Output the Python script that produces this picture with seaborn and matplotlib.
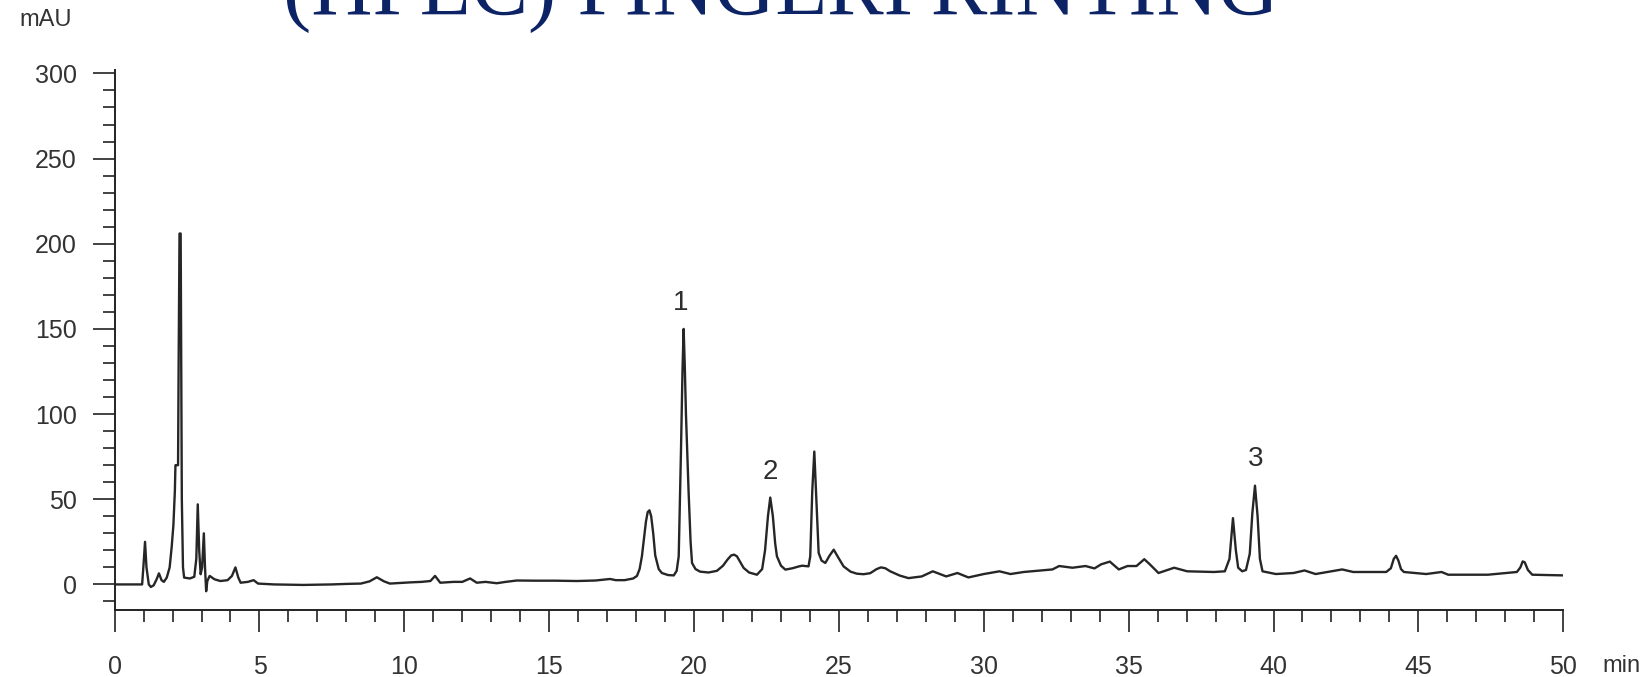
import matplotlib
matplotlib.use("Agg")
import matplotlib.pyplot as plt
import seaborn as sns
import pandas as pd
from matplotlib.ticker import MultipleLocator

# ---- data ----
time_min = [
    0.0, 0.95, 1.0, 1.05, 1.1, 1.18, 1.25, 1.35, 1.45, 1.53, 1.62, 1.7, 1.8, 1.9, 1.97,
    2.03, 2.08, 2.10, 2.19, 2.21, 2.24, 2.28, 2.30, 2.32, 2.36, 2.40, 2.6, 2.75, 2.82,
    2.87, 2.92, 2.97, 3.02, 3.08, 3.12, 3.16, 3.2, 3.28, 3.45, 3.65, 3.9, 4.05, 4.17,
    4.27, 4.35, 4.6, 4.8, 4.95, 5.5, 6.5, 7.5, 8.0, 8.5, 8.8, 9.05, 9.3, 9.5, 9.8, 10.2,
    10.6, 10.9, 11.06, 11.24, 11.7, 12.0, 12.27, 12.5, 12.8, 13.19, 13.5, 13.88, 14.5,
    15.2, 15.96, 16.6, 17.1, 17.3, 17.6, 17.9, 18.03, 18.12, 18.2, 18.27, 18.34, 18.4,
    18.46, 18.52, 18.59, 18.66, 18.78, 18.89, 19.1, 19.3, 19.4, 19.47, 19.55, 19.6,
    19.64, 19.68, 19.72, 19.81, 19.88, 19.93, 20.05, 20.21, 20.5, 20.79, 21.0, 21.15,
    21.28, 21.38, 21.48, 21.6, 21.71, 21.9, 22.17, 22.35, 22.45, 22.55, 22.63, 22.72,
    22.8, 22.86, 23.0, 23.15, 23.4, 23.6, 23.73, 23.95, 24.01, 24.08, 24.15, 24.22,
    24.3, 24.4, 24.53, 24.68, 24.82, 24.97, 25.16, 25.4, 25.62, 25.85, 26.08, 26.3,
    26.45, 26.6, 26.77,
    27.1, 27.4, 27.86, 28.24, 28.7, 29.09, 29.47, 30.0, 30.54, 30.92, 31.38, 31.99,
    32.37, 32.6, 33.06, 33.51, 33.82, 34.05, 34.35, 34.66, 34.96, 35.27, 35.54, 35.73,
    36.03, 36.57, 37.02, 37.94, 38.32, 38.48, 38.6, 38.7, 38.78, 38.92, 39.05, 39.18,
    39.27, 39.36, 39.45, 39.53, 39.62, 40.08, 40.69, 41.07, 41.45, 42.37, 42.75, 43.89,
    44.05, 44.15, 44.23, 44.31, 44.4, 44.5, 45.27, 45.8, 46.03, 47.4, 48.4, 48.52,
    48.6, 48.67, 48.78, 48.93, 50.0,
]
signal_mau = [
    0.0, 0.0, 12, 25, 10, 0, -1.5, -0.5, 3, 6.5, 2.5, 1.5, 4, 10, 22,
    35, 55, 70, 70, 130, 206, 206, 120, 50, 10, 4, 3.5, 4.5, 15,
    47, 20, 6, 10, 30, 10, -4, 2, 5, 3, 2, 2.5, 5, 10,
    4, 1, 1.5, 2.5, 0.5, 0, -0.3, 0, 0.3, 0.5, 1.8, 4.2, 1.8, 0.5, 0.8, 1.2,
    1.5, 2, 5, 1, 1.5, 1.5, 3.5, 1, 1.5, 0.7, 1.5, 2.3, 2.2,
    2.2, 2, 2.3, 3.2, 2.5, 2.5, 3.5, 5, 9, 16.5, 27, 37, 42.5,
    43.5, 40, 30, 17, 9, 6.7, 5.5, 5.3, 8, 16.5, 80, 125,
    150, 128, 100, 55, 25, 12.6, 9, 7.5, 7, 8, 11, 14.5,
    17, 17.5, 16.5, 13, 9.7, 7, 5.7, 9, 20, 40, 51, 40,
    24, 16.5, 11, 8.7, 9.5, 10.5, 11, 10.6, 16.5, 55, 78, 50,
    18.5, 14, 12.6, 17, 20.4, 16, 10.6, 7.5, 6.3, 6, 6.6, 9,
    10, 9.5, 7.7,
    5.2, 3.7, 4.7, 7.7, 4.7, 6.7, 4.1, 6.1, 7.7, 6.1, 7.3, 8.2,
    8.8, 10.8, 9.8, 10.8, 9.4, 11.8, 13.4, 8.8, 10.8, 10.8, 14.8, 11.8,
    6.7, 9.8, 7.7, 7.3, 7.7, 15, 38.9, 20, 9.8, 7.7, 8.5, 18,
    42, 58, 40, 15, 7.7, 6.1, 6.7, 8.2, 6.1, 8.8, 7.3, 7.3,
    9.5, 15, 16.8, 14, 9, 7.3, 6.1, 7.3, 5.7, 5.7, 7.3, 10,
    13.5, 13, 8.5, 5.7, 5.3,
]
peak_labels = ["1", "2", "3"]
peak_label_time = [19.55, 22.62, 39.4]
peak_label_mau = [165, 66, 73.5]
x_ticks = [0, 5, 10, 15, 20, 25, 30, 35, 40, 45, 50]
y_ticks = [0, 50, 100, 150, 200, 250, 300]
title_text = "(HPLC) FINGERPRINTING"
y_unit = "mAU"
x_unit = "min"

sns.set_theme(style="ticks")
plt.rcParams['font.family'] = ['Liberation Sans', 'DejaVu Sans']

fig = plt.figure(figsize=(16.49, 6.77), dpi=100)
ax = fig.add_axes([0.0695, 0.099, 0.8785, 0.7976])

df = pd.DataFrame({"t": time_min, "s": signal_mau})
sns.lineplot(data=df, x="t", y="s", ax=ax, color="#262626", linewidth=1.7,
             sort=False, estimator=None)

ax.set_xlim(0, 50)
ax.set_ylim(-15, 302)
ax.set_xlabel("")
ax.set_ylabel("")
ax.set_xticks(x_ticks)
ax.set_yticks(y_ticks)
ax.set_xticklabels([str(v) for v in x_ticks])
ax.set_yticklabels([str(v) for v in y_ticks])
ax.xaxis.set_minor_locator(MultipleLocator(1))
ax.yaxis.set_minor_locator(MultipleLocator(10))

for side in ["top", "right"]:
    ax.spines[side].set_visible(False)
for side in ["left", "bottom"]:
    ax.spines[side].set_linewidth(1.4)
    ax.spines[side].set_color("#222222")

ax.tick_params(which="major", direction="out", length=15.8, width=1.2,
               color="#222222", labelsize=18, labelcolor="#333333")
ax.tick_params(axis="y", which="major", pad=11.5)
ax.tick_params(axis="x", which="major", pad=16.5)
ax.tick_params(which="minor", direction="out", length=8.6, width=1.2,
               color="#222222")

for lab, t, v in zip(peak_labels, peak_label_time, peak_label_mau):
    ax.text(t, v, lab, ha="center", va="center", fontsize=20, color="#2e2e2e")

fig.text(72 / 1649, 1 - 20 / 677, y_unit, ha="right", va="center",
         fontsize=17, color="#333333")
fig.text(1602 / 1649, 1 - 666 / 677, x_unit, ha="left", va="center",
         fontsize=17, color="#333333")
fig.text(283 / 1649, 1 - 15 / 677, title_text, ha="left", va="baseline",
         fontsize=61, family=["Liberation Serif", "DejaVu Serif"], color="#0c2366")

fig.savefig("out.png", dpi=100, facecolor="white")
